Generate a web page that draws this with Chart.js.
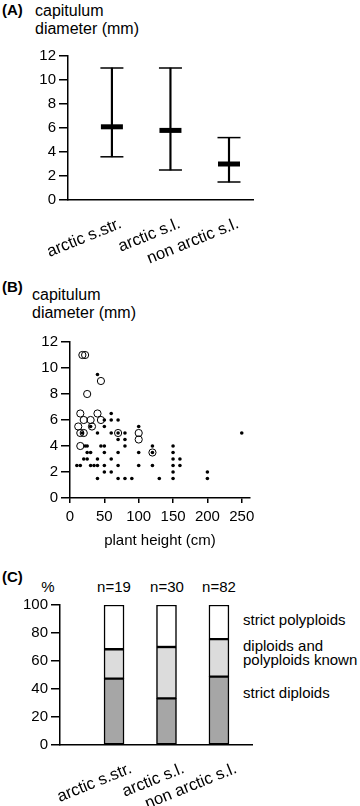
<!DOCTYPE html>
<html>
<head>
<meta charset="utf-8">
<script src="https://cdn.jsdelivr.net/npm/chart.js@4.4.1/dist/chart.umd.min.js"></script>
<style>
  body { margin: 0; background: #fff; font-family: "Liberation Sans", Arial, sans-serif; color: #000; }
  #wrap { position: relative; width: 360px; height: 806px; overflow: hidden; }
  canvas { position: absolute; left: 0; }
  .t { position: absolute; font-size: 15px; line-height: 15px; white-space: nowrap; }
  .big { font-size: 16px; line-height: 17.6px; }
  .lab { font-weight: bold; }
  .c { transform: translateX(-50%); }
</style>
</head>
<body>
<div id="wrap">
  <div class="t lab" style="left:2px;top:2px">(A)</div>
  <div class="t big" style="left:35px;top:2px">capitulum<br>diameter (mm)</div>
  <canvas id="chartA" width="360" height="230" style="top:40px"></canvas>

  <div class="t lab" style="left:2px;top:279px">(B)</div>
  <div class="t big" style="left:32px;top:286px;line-height:18px">capitulum<br>diameter (mm)</div>
  <canvas id="chartB" width="360" height="238" style="top:325px"></canvas>

  <div class="t lab" style="left:2px;top:569px">(C)</div>
  <div class="t c" style="left:48px;top:579px">%</div>
  <div class="t c" style="left:114px;top:579px">n=19</div>
  <div class="t c" style="left:167px;top:579px">n=30</div>
  <div class="t c" style="left:219px;top:579px">n=82</div>
  <div class="t" style="left:243px;top:612px">strict polyploids</div>
  <div class="t" style="left:243px;top:639px;line-height:13.6px">diploids and<br>polyploids known</div>
  <div class="t" style="left:243px;top:685px">strict diploids</div>
  <canvas id="chartC" width="360" height="211" style="top:595px"></canvas>
</div>
<script>
// (A) capitulum diameter per group
const groups = ['arctic s.str.', 'arctic s.l.', 'non arctic s.l.'];
const diamMax = [11, 11, 5.2];
const diamMin = [3.6, 2.5, 1.5];
const diamMean = [6.1, 5.8, 3.0];
const diamTicks = [0, 2, 4, 6, 8, 10, 12];

// (B) plant height vs capitulum diameter
const dotHeight = [40, 60, 50, 60, 70, 30, 50, 18, 40, 60, 70, 80, 100, 250,
  70, 80, 22, 25, 45, 50, 80, 120, 150,
  25, 30, 50, 70, 100, 120, 150,
  20, 25, 40, 60, 150, 160,
  10, 15, 30, 35, 40, 50, 70, 100, 120, 150, 160,
  50, 60, 150, 200,
  40, 70, 80, 90, 130, 150, 200];
const dotDiam = [9.5, 6.5, 6, 6, 6, 5.5, 5.5, 5, 5, 5, 5, 5, 5.5, 5,
  4.5, 4.5, 4, 4, 4, 4, 4, 4, 4,
  3.5, 3.5, 3.5, 3.5, 3.5, 3.5, 3.5,
  3, 3, 3, 3, 3, 3,
  2.5, 2.5, 2.5, 2.5, 2.5, 2.5, 2.5, 2.5, 2.5, 2.5, 2.5,
  2, 2, 2, 2,
  1.5, 1.5, 1.5, 1.5, 1.5, 1.5, 1.5];
const ringHeight = [18, 22, 45, 25, 15, 40, 20, 30, 45, 12, 32, 15, 20, 70, 100, 100, 15, 120];
const ringDiam = [11, 11, 9, 8, 6.5, 6.5, 6, 6, 6, 5.5, 5.5, 5, 5, 5, 5, 4.5, 4, 3.5];
const heightTicks = [0, 50, 100, 150, 200, 250];

// (C) ploidy shares (%)
const nLabels = ['n=19', 'n=30', 'n=82'];
const strictDiploids = [47.4, 33.3, 48.8];
const bothKnown = [21.0, 36.7, 26.8];
const strictPolyploids = [31.6, 30.0, 24.4];
const pctTicks = [0, 20, 40, 60, 80, 100];

Chart.defaults.font.family = '"Liberation Sans", Arial, sans-serif';
Chart.defaults.font.size = 15;
Chart.defaults.color = '#000';

function yAxis(min, max, ticks, width) {
    return {
        type: 'linear',
        min: min,
        max: max,
        afterBuildTicks: s => { s.ticks = ticks.map(v => ({ value: v })); },
        afterFit: s => { s.width = width; s.paddingTop = 0; s.paddingBottom = 0; },
        ticks: { padding: 3, font: { size: 15 } },
        grid: { drawOnChartArea: false, color: '#000', lineWidth: 1.5, tickLength: 9 },
        border: { color: '#000', width: 1.5 }
    };
}

function groupAxis(min, max, height, offset, pad) {
    return {
        type: 'linear',
        min: min,
        max: max,
        offset: false,
        afterBuildTicks: s => { s.ticks = groups.map((g, i) => ({ value: i + 1 })); },
        afterFit: s => { s.height = height; s.paddingLeft = 0; s.paddingRight = 0; },
        ticks: {
            callback: (v, i) => groups[i],
            minRotation: 22,
            maxRotation: 22,
            autoSkip: false,
            labelOffset: offset,
            padding: pad,
            font: { size: 16.5 }
        },
        grid: { display: false, offset: false, tickLength: 4 },
        border: { color: '#000', width: 1.5 }
    };
}

const common = {
    responsive: false,
    animation: false,
    events: [],
    plugins: { legend: { display: false }, tooltip: { enabled: false } }
};

new Chart(document.getElementById('chartA'), {
    type: 'scatter',
    data: {
        datasets: [
            {
                type: 'scatter',
                data: groups.map((g, i) => ({ x: i + 1, y: diamMean[i] })),
                pointStyle: 'line',
                radius: 11,
                borderWidth: 5,
                borderColor: '#000'
            },
            {
                type: 'scatter',
                data: groups.map((g, i) => ({ x: i + 1, y: diamMax[i] }))
                    .concat(groups.map((g, i) => ({ x: i + 1, y: diamMin[i] }))),
                pointStyle: 'line',
                radius: 11.5,
                borderWidth: 1.5,
                borderColor: '#000'
            },
            {
                type: 'bar',
                data: groups.map((g, i) => ({ x: i + 1, y: [diamMin[i], diamMax[i]] })),
                barThickness: 1.5,
                backgroundColor: '#000',
                borderWidth: 0
            }
        ]
    },
    options: Object.assign({}, common, {
        layout: { padding: { left: 0, right: 107, top: 16, bottom: 0 } },
        scales: {
            x: groupAxis(0.25, 3.41, 70, 9, 10),
            y: yAxis(0, 12, diamTicks, 68)
        }
    })
});

new Chart(document.getElementById('chartB'), {
    type: 'scatter',
    data: {
        datasets: [
            {
                data: dotHeight.map((h, i) => ({ x: h, y: dotDiam[i] })),
                pointStyle: 'circle',
                radius: 1.8,
                borderWidth: 0,
                backgroundColor: '#000'
            },
            {
                data: ringHeight.map((h, i) => ({ x: h, y: ringDiam[i] })),
                pointStyle: 'circle',
                radius: 3.6,
                borderWidth: 1,
                borderColor: '#000',
                backgroundColor: 'rgba(0,0,0,0)'
            }
        ]
    },
    options: Object.assign({}, common, {
        layout: { padding: { left: 0, right: 110, top: 17, bottom: 0 } },
        scales: {
            x: {
                type: 'linear',
                min: 0,
                max: 262,
                afterBuildTicks: s => { s.ticks = heightTicks.map(v => ({ value: v })); },
                afterFit: s => { s.height = 65; s.paddingLeft = 0; s.paddingRight = 0; },
                ticks: { padding: 5, maxRotation: 0, font: { size: 15 } },
                grid: { drawOnChartArea: false, color: '#000', lineWidth: 1.5, tickLength: 5 },
                border: { color: '#000', width: 1.5 },
                title: { display: true, text: 'plant height (cm)', font: { size: 15 }, padding: { top: 2, bottom: 13 } }
            },
            y: yAxis(0, 12, diamTicks, 70)
        }
    })
});

new Chart(document.getElementById('chartC'), {
    type: 'bar',
    data: {
        datasets: [
            { label: 'strict diploids', data: strictDiploids.map((v, i) => ({ x: i + 1, y: v })), backgroundColor: '#a6a6a6' },
            { label: 'diploids and polyploids known', data: bothKnown.map((v, i) => ({ x: i + 1, y: v })), backgroundColor: '#dcdcdc' },
            { label: 'strict polyploids', data: strictPolyploids.map((v, i) => ({ x: i + 1, y: v })), backgroundColor: '#ffffff' }
        ]
    },
    options: Object.assign({}, common, {
        datasets: { bar: { barThickness: 20, borderWidth: 1.5, borderColor: '#000', borderSkipped: false } },
        layout: { padding: { left: 0, right: 108, top: 10, bottom: 0 } },
        scales: {
            x: Object.assign(groupAxis(-0.03, 3.63, 61, 17, 10), { stacked: true }),
            y: Object.assign(yAxis(0, 100, pctTicks, 60), { stacked: true })
        }
    })
});
</script>
</body>
</html>
